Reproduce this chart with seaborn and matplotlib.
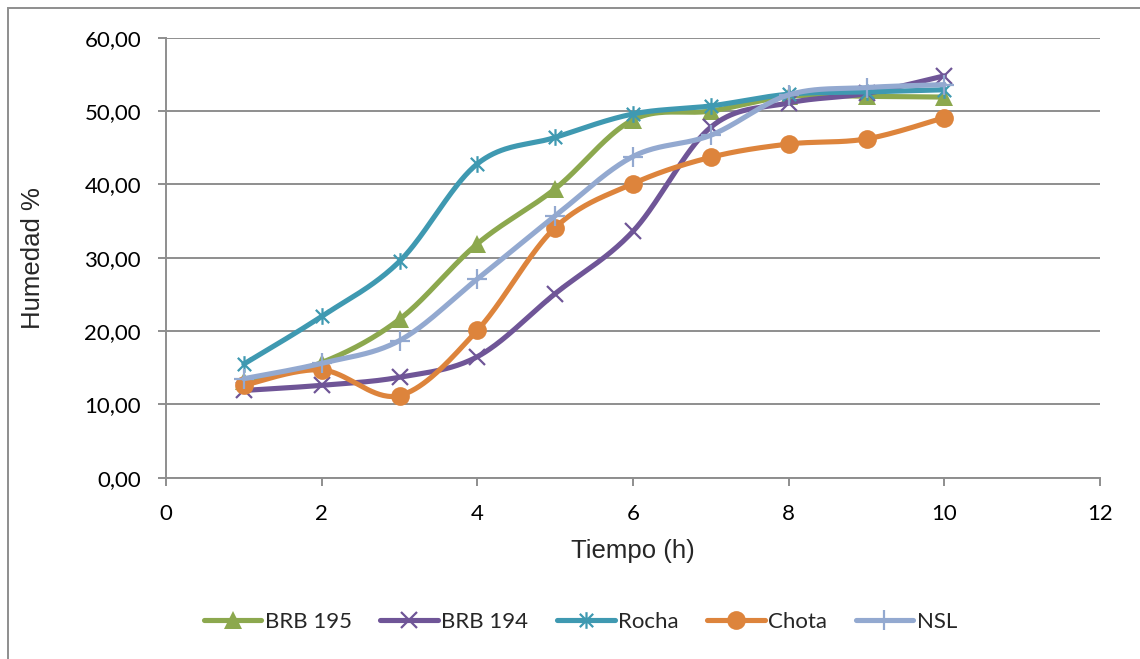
import numpy as np
import matplotlib
matplotlib.use("Agg")
import matplotlib.pyplot as plt
from matplotlib.lines import Line2D
from matplotlib.path import Path
from matplotlib.patches import Rectangle
from matplotlib.ticker import FuncFormatter, MultipleLocator
import seaborn as sns

# Drying curves: moisture (%) versus time (h) for five bean varieties
tiempo = [1, 2, 3, 4, 5, 6, 7, 8, 9, 10]
brb195 = [13.2, 15.7, 21.6, 31.9, 39.4, 48.8, 50.0, 52.0, 52.0, 51.9]
brb194 = [11.9, 12.6, 13.7, 16.5, 25.1, 33.6, 47.8, 51.1, 52.4, 54.8]
rocha = [15.5, 22.0, 29.5, 42.8, 46.4, 49.6, 50.7, 52.3, 52.6, 52.9]
chota = [12.6, 14.7, 11.2, 20.1, 34.1, 40.1, 43.7, 45.5, 46.2, 49.1]
nsl = [13.5, 15.6, 18.7, 27.1, 35.7, 43.8, 46.7, 52.2, 53.2, 53.6]

series_names = ["BRB 195", "BRB 194", "Rocha", "Chota", "NSL"]
series_values = [brb195, brb194, rocha, chota, nsl]

sns.set_theme(style="white")
plt.rcParams["font.family"] = ["Lato", "DejaVu Sans"]

# six-armed star marker (x plus a vertical bar)
star = Path(
    [(-1, -1), (1, 1), (-1, 1), (1, -1), (0, -1.25), (0, 1.25)],
    [Path.MOVETO, Path.LINETO, Path.MOVETO, Path.LINETO, Path.MOVETO, Path.LINETO],
)

styles = {
    "BRB 195": dict(color="#8CA84E", marker="^", ms=13, mew=0, filled=True),
    "BRB 194": dict(color="#6F5597", marker="x", ms=11, mew=1.6, filled=False),
    "Rocha": dict(color="#3F99B1", marker=star, ms=12, mew=1.6, filled=False),
    "Chota": dict(color="#DD843C", marker="o", ms=13.5, mew=0, filled=True),
    "NSL": dict(color="#93A9D0", marker="+", ms=14, mew=1.6, filled=False),
}


def smooth_curve(xs, ys, n=40):
    """Piecewise cubic Bezier through the points (Catmull-Rom tangents)."""
    p = np.column_stack([xs, ys]).astype(float)
    ext = np.vstack([p[0], p, p[-1]])
    out = []
    t = np.linspace(0, 1, n)[:, None]
    for i in range(len(p) - 1):
        p0, p1, p2, p3 = ext[i], ext[i + 1], ext[i + 2], ext[i + 3]
        c1 = p1 + (p2 - p0) / 6.0
        c2 = p2 - (p3 - p1) / 6.0
        seg = ((1 - t) ** 3) * p1 + 3 * ((1 - t) ** 2) * t * c1 + 3 * (1 - t) * t ** 2 * c2 + t ** 3 * p2
        out.append(seg if i == 0 else seg[1:])
    c = np.vstack(out)
    return c[:, 0], c[:, 1]


fig = plt.figure(figsize=(11.4, 6.59), dpi=100)
ax = fig.add_axes([166 / 1140, 1 - 477.7 / 659, (1100 - 166) / 1140, (477.7 - 37.7) / 659])

grey = "#8E8E8E"
line_w = 3.7
handles = []
for name, vals in zip(series_names, series_values):
    st = styles[name]
    sx, sy = smooth_curve(tiempo, vals)
    sns.lineplot(x=sx, y=sy, sort=False, estimator=None, color=st["color"],
                 lw=line_w, ax=ax, solid_capstyle="round", solid_joinstyle="round")
    mk = dict(marker=st["marker"], markersize=st["ms"], markeredgewidth=st["mew"])
    if st["filled"]:
        mk.update(markerfacecolor=st["color"], markeredgecolor=st["color"])
    else:
        mk.update(markeredgecolor=st["color"])
    sns.lineplot(x=tiempo, y=vals, sort=False, estimator=None, linestyle="",
                 color=st["color"], ax=ax, **mk)
    handles.append(Line2D([], [], color=st["color"], lw=line_w, **mk))

ax.set_xlim(0, 12)
ax.set_ylim(0, 60)
ax.xaxis.set_major_locator(MultipleLocator(2))
ax.yaxis.set_major_locator(MultipleLocator(10))
ax.yaxis.set_major_formatter(FuncFormatter(lambda v, _: f"{v:.2f}".replace(".", ",")))
ax.xaxis.set_major_formatter(FuncFormatter(lambda v, _: f"{v:.0f}"))

ax.grid(axis="y", color=grey, lw=1.4)
ax.grid(axis="x", visible=False)
ax.set_axisbelow(True)
for side in ("top", "right"):
    ax.spines[side].set_visible(False)
for side in ("left", "bottom"):
    ax.spines[side].set_color(grey)
    ax.spines[side].set_linewidth(1.4)

ax.tick_params(axis="both", which="major", direction="out", length=6, width=1.4,
               color=grey, labelsize=16, labelcolor="black")
ax.tick_params(axis="y", pad=12)
ax.tick_params(axis="x", pad=13)
ax.tick_params(left=True, bottom=True)

ax.set_xlabel("Tiempo (h)", fontsize=18.5, family=["Liberation Sans", "DejaVu Sans"])
ax.set_ylabel("Humedad %", fontsize=18.5, family=["Liberation Sans", "DejaVu Sans"])
ax.xaxis.set_label_coords(0.5, -(551 - 477.7) / 440)
ax.xaxis.label.set_va("center")
ax.yaxis.set_label_coords((33 - 166) / 934, 0.5)
ax.yaxis.label.set_va("center")

leg = fig.legend(handles, series_names, loc="center", bbox_to_anchor=(0.509, 1 - 622 / 659),
                 ncol=5, frameon=False, fontsize=16, handlelength=2.6,
                 handletextpad=0.15, columnspacing=1.28)

# chart-area border
fig.patches.append(Rectangle((8 / 1140, -0.02), 1.05, 1 - 8 / 659 + 0.02,
                             transform=fig.transFigure, fill=False,
                             edgecolor=grey, lw=1.4, zorder=-1))

fig.savefig("out.png", dpi=100)
